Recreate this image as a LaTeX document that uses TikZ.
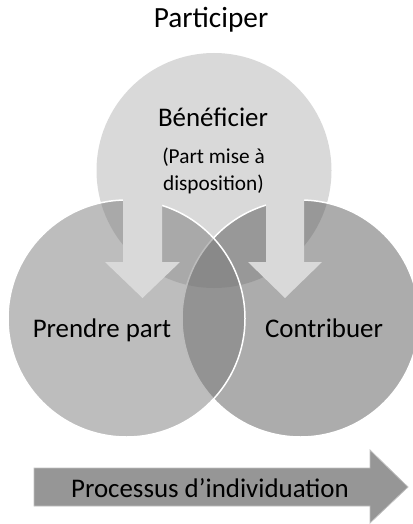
\documentclass[tikz,border=0pt]{standalone}
\usepackage{fontspec}
\setmainfont{Carlito}
\usepackage{tikz}
\usetikzlibrary{positioning}

\definecolor{topfill}{RGB}{217,217,217}
\definecolor{leftfill}{RGB}{123,123,123}
\definecolor{rightfill}{RGB}{89,89,89}
\definecolor{procfill}{RGB}{150,150,150}
\definecolor{procline}{RGB}{192,192,192}

\tikzset{
	venn/.style={draw=white, line width=1.5pt, fill opacity=0.5},
	downarrow/.style={fill=topfill},
	big/.style={anchor=base, font=\fontsize{26.9}{32}\selectfont},
	small/.style={anchor=base, font=\fontsize{21.3}{27}\selectfont}
}

\begin{document}
\begin{tikzpicture}[x=1pt,y=-1pt]
			\useasboundingbox (0,0) rectangle (412,524);
			% les trois cercles
			\fill[topfill] (214,170.5) circle (117.5pt);
			\draw[venn, fill=rightfill] (300.5,318.5) circle (118.5pt);
			\draw[venn, fill=leftfill] (126.5,318.5) circle (118.5pt);
			% fleches vers le bas
			\fill[downarrow] (123,195) -- (162,195) -- (162,262) -- (180,262) -- (142.5,298) -- (105,262) -- (123,262) -- cycle;
			\fill[downarrow] (266,195) -- (304,195) -- (304,262) -- (322,262) -- (285,298) -- (248,262) -- (266,262) -- cycle;
			% fleche du processus
			\draw[fill=procfill, draw=procline, line width=0.8pt] (34,468) -- (370,468) -- (370,450) -- (408,487) -- (370,523) -- (370,506) -- (34,506) -- cycle;
			% textes
			\node[big, font=\fontsize{29.3}{34}\selectfont] (particip) at (211,28) {Participer};
			\node[big] (benef) at (213,126) {Bénéficier};
			\node[small] (partmise) at (213.5,163) {(Part mise à};
			\node[small] (dispo) at (213.5,190) {disposition)};
			\node[big] (prendre) at (102,337) {Prendre part};
			\node[big] (contrib) at (324,337) {Contribuer};
			\node[big] (process) at (210,497) {Processus d’individuation};
		    \end{tikzpicture}
\end{document}
